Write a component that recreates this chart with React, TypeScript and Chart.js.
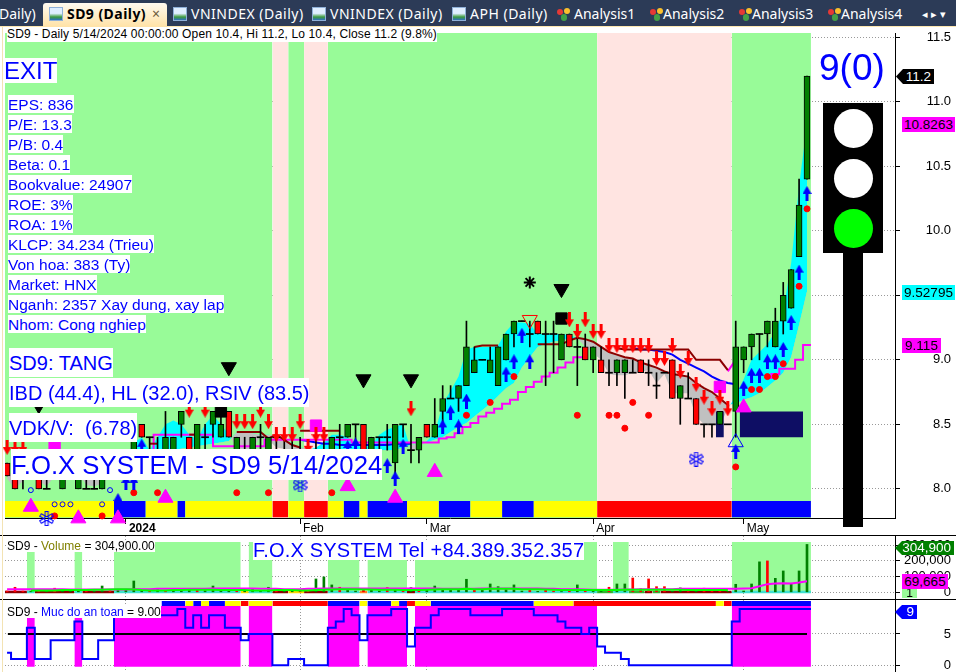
import React, { useEffect, useRef } from "react";
import Chart from "chart.js/auto";

// ---------- price data (one entry per trading bar) ----------
const opens = [8.2,8.1,8.1,8.1,8.1,8.0,8.1,8.0,8.1,8.0,8.0,8.0,8.0,8.1,8.1,8.2,8.2,8.5,8.4,8.3,8.3,8.3,8.5,8.4,8.3,8.4,8.5,8.4,8.6,8.3,8.3,8.3,8.4,8.3,8.4,8.3,8.3,8.3,8.3,8.3,8.3,8.3,8.4,8.4,8.5,8.5,8.3,8.4,8.4,8.2,8.5,8.3,8.3,8.5,8.4,8.6,8.7,8.7,8.8,8.9,9.0,8.9,8.8,9.0,9.2,9.3,9.2,9.3,9.2,9.2,9.0,9.2,9.1,9.1,9.0,9.0,8.9,8.9,8.9,8.9,9.0,8.9,8.8,8.9,9.0,8.7,8.7,8.7,8.5,8.5,8.5,8.5,8.6,9.0,9.1,9.2,9.2,9.1,9.3,9.4,9.8,10.4];
const closes = [8.1,8.0,8.1,8.1,8.0,8.0,8.1,8.1,8.1,8.1,8.0,8.0,8.1,8.1,8.2,8.3,8.4,8.4,8.4,8.3,8.4,8.4,8.6,8.3,8.5,8.4,8.6,8.5,8.4,8.4,8.3,8.4,8.4,8.4,8.4,8.3,8.3,8.3,8.3,8.3,8.3,8.4,8.4,8.5,8.5,8.3,8.4,8.4,8.4,8.5,8.5,8.3,8.4,8.4,8.5,8.7,8.7,8.8,9.1,9.0,9.0,9.0,9.1,9.2,9.3,9.3,9.2,9.2,9.2,9.2,9.2,9.1,9.1,9.0,9.1,8.9,8.9,9.0,9.0,8.9,8.9,8.9,8.8,8.9,8.7,8.8,8.7,8.5,8.5,8.5,8.6,8.5,9.1,9.1,9.2,9.2,9.3,9.3,9.5,9.7,10.2,11.2];
const highs = [8.2,8.1,8.1,8.2,8.1,8.1,8.2,8.1,8.2,8.1,8.1,8.1,8.1,8.2,8.2,8.3,8.4,8.5,8.4,8.4,8.6,8.4,8.6,8.4,8.5,8.5,8.6,8.6,8.6,8.4,8.4,8.4,8.5,8.4,8.4,8.4,8.4,8.4,8.3,8.4,8.4,8.4,8.5,8.5,8.5,8.5,8.4,8.4,8.5,8.5,8.5,8.5,8.4,8.5,8.7,8.8,8.8,8.8,9.3,9.1,9.0,9.1,9.1,9.2,9.3,9.3,9.3,9.3,9.3,9.3,9.2,9.2,9.2,9.2,9.1,9.1,9.0,9.0,9.0,9.0,9.0,9.0,8.9,8.9,9.0,8.8,8.9,8.7,8.5,8.5,8.6,8.5,9.3,9.1,9.2,9.2,9.3,9.4,9.6,9.7,10.4,11.2];
const lows = [8.1,8.0,8.0,8.1,8.0,8.0,8.1,8.0,8.1,8.0,8.0,8.0,8.0,8.1,8.1,8.2,8.2,8.4,8.3,8.3,8.3,8.3,8.4,8.3,8.3,8.3,8.4,8.4,8.4,8.3,8.3,8.3,8.3,8.3,8.3,8.3,8.3,8.3,8.3,8.3,8.3,8.3,8.3,8.4,8.3,8.3,8.3,8.3,8.3,8.1,8.4,8.2,8.2,8.4,8.4,8.5,8.7,8.6,8.8,8.9,9.0,8.9,8.8,9.0,9.1,9.3,9.1,9.2,8.8,8.9,9.0,9.1,8.8,9.0,8.9,8.9,8.8,8.8,8.7,8.9,8.9,8.8,8.7,8.9,8.7,8.5,8.7,8.5,8.4,8.4,8.5,8.5,8.4,8.9,9.0,9.0,9.1,9.1,9.2,9.4,9.8,10.4];

// two moving averages of the cloud (cyan when fast above slow, grey when below)
const cloudFast = [8.08,8.0,8.06,8.1,8.06,8.02,8.1,8.13,8.14,8.12,8.03,8.02,8.04,8.1,8.2,8.25,8.36,8.4,8.3,8.4,8.5,8.53,8.5,8.42,8.38,8.5,8.57,8.5,8.42,8.32,8.3,8.32,8.4,8.38,8.32,8.31,8.3,8.29,8.3,8.32,8.36,8.42,8.42,8.4,8.34,8.32,8.34,8.42,8.46,8.48,8.5,8.3,8.32,8.37,8.43,8.66,8.76,8.87,9.08,9.1,9.1,9.1,9.11,9.22,9.29,9.29,9.28,9.2,9.2,9.2,9.2,9.19,9.17,9.1,9.05,9.0,8.89,8.88,8.88,8.9,8.91,8.92,8.82,8.89,8.74,8.74,8.74,8.56,8.5,8.49,8.49,8.62,8.72,8.85,9.0,9.06,9.12,9.22,9.38,9.75,10.35,10.83];
const cloudSlow = [8.12,8.12,8.11,8.11,8.11,8.11,8.11,8.11,8.11,8.11,8.11,8.12,8.12,8.13,8.15,8.17,8.2,8.22,8.24,8.26,8.28,8.3,8.31,8.32,8.33,8.34,8.35,8.36,8.37,8.44,8.44,8.43,8.42,8.42,8.41,8.38,8.35,8.32,8.31,8.3,8.3,8.3,8.3,8.3,8.3,8.3,8.3,8.3,8.3,8.3,8.32,8.34,8.35,8.36,8.38,8.4,8.44,8.48,8.51,8.56,8.61,8.66,8.72,8.78,8.82,8.94,9.02,9.1,9.12,9.14,9.15,9.165,9.17,9.16,9.14,9.1,9.06,9.04,9.02,9.01,8.98,8.96,8.94,8.91,8.89,8.88,8.87,8.82,8.78,8.75,8.7,8.65,8.66,8.69,8.71,8.74,8.79,8.84,8.9,9.02,9.27,9.53];

// [bar, value] line pieces
const stopRising = [[18,8.28],[19,8.42],[20,8.42],[32,8.33],[33,8.38],[34,8.38],[53,8.36],[54,8.36],[55,8.39],[56,8.40],[57,8.43],[58,8.48],[59,8.51],[60,8.56],[61,8.59],[62,8.62],[63,8.66],[64,8.69],[65,8.75],[66,8.79],[67,8.83],[68,8.87],[69,8.90],[70,8.94],[71,8.98],[72,9.02],[73,9.02]];
const stopRisingEnd = [[91,8.91],[92,9.0]];
const stopRisingLast = [[96,8.86],[97,8.89],[98,8.93],[99,8.93],[100,9.0],[101,9.115],[101.5,9.115]];
const stopFalling = [[18,8.35],[19,8.35]];
const stopFalling2 = [[23,8.42],[24,8.42]];
const stopFalling3 = [[29,8.44],[30,8.44],[31,8.44],[32,8.44],[33,8.39],[34,8.42],[35,8.38],[36,8.34],[37,8.32]];
const stopFalling4 = [[37,8.45],[38,8.45],[39,8.45],[40,8.45],[41,8.45],[42,8.45]];
const stopFalling5 = [[59,9.1],[60,9.11],[61,9.11],[62,9.11]];
const maFalling = [[67,9.12],[68,9.12],[69,9.12],[70,9.12],[71,9.15],[72,9.17],[73,9.16],[74,9.14],[75,9.10],[76,9.06],[77,9.04],[78,9.02],[79,9.01],[80,8.98],[81,8.96],[82,8.94],[83,8.91],[84,8.89],[85,8.88],[86,8.87],[87,8.82],[88,8.78],[89,8.75],[90,8.70],[91,8.65]];
const stopUpper = [[77,9.09],[78,9.08],[79,9.08],[80,9.08],[81,9.08],[82,9.08],[83,9.08],[84,9.08],[85,9.08],[86,9.08],[87,9.0],[88,9.0],[89,9.0],[90,9.0],[91,8.92]];
const blueTrail = [[37,8.38],[38,8.37],[39,8.36],[40,8.35],[41,8.35],[42,8.34],[43,8.34],[44,8.34],[45,8.34],[46,8.34],[47,8.34],[48,8.34],[49,8.35],[50,8.35],[51,8.35]];
const blueTrail2 = [[79,9.09],[80,9.08],[81,9.08],[82,9.07],[83,9.06],[84,9.04],[85,9.0],[86,8.97],[87,8.94],[88,8.91],[89,8.87],[90,8.84],[91,8.82],[92,8.81]];

// signal markers: [bar, value]
const upArrows = [[14,7.91],[15,8.05],[16,8.05],[17,8.33],[43,8.32],[44,8.34],[48,8.18],[49,8.08],[50,8.33],[55,8.48],[56,8.59],[57,8.48],[58,8.68],[63,8.89],[64,8.985],[65,9.19],[66,8.985],[92,8.29],[93,8.78],[94,8.88],[95,8.88],[96,8.985],[97,8.985],[98,9.08],[99,9.29],[100,9.68],[101,10.29]];
const downArrows = [[0,8.32],[1,8.32],[2,8.32],[23,8.61],[25,8.61],[29,8.52],[30,8.52],[31,8.52],[32,8.61],[33,8.52],[34,8.42],[35,8.42],[36,8.42],[37,8.52],[38,8.33],[39,8.42],[40,8.42],[51,8.62],[71,9.31],[72,9.22],[73,9.31],[74,9.22],[75,9.22],[76,9.11],[77,9.11],[78,9.11],[79,9.11],[80,9.11],[81,9.11],[82,9.01],[83,9.01],[84,9.11],[85,8.91],[86,9.01],[87,8.81],[88,8.71],[89,8.62],[90,8.71],[91,8.62]];
const blackDown = [[4,8.65],[28,8.944],[45,8.85],[51,8.85],[70,9.55]];
const hollowDown = [[66,9.31]];
const hollowUp = [[92,8.36]];
const starMarks = [[66,9.6]];
const blackSquares = [[27,8.6],[70,9.32]];
const magentaSquares = [[6,8.33],[39,8.49],[90,8.79]];
const magentaUp = [[3,7.86],[9,7.77],[14,7.77],[20,7.93],[43,8.02],[49,7.93],[54,8.13],[93,8.63]];
const redDots = [[6,7.79],[12,7.79],[16,7.97],[19,7.97],[29,7.97],[33,7.97],[41,7.97],[58,8.57],[61,8.67],[64,8.87],[72,8.57],[76,8.57],[77,8.57],[78,8.47],[79,8.67],[81,8.57],[92,8.17],[94,8.77],[95,8.77],[96,8.87],[97,8.87],[98,8.97],[100,9.57],[101,10.17]];
const smallRings = [[3,7.99],[13,7.99],[6,7.88],[7,7.88],[8,7.88],[12,7.88]];
const snowflakes = [[5,7.77],[37,8.03],[87,8.23]];
const navyBlocks = [[90,91],[93,101]];

// background zones as [firstBar, lastBarExclusive]
const greenZones = [[0,34],[36,38],[41,75],[92,102]];
const pinkZones = [[34,36],[38,41],[75,92]];
const stripYellow = [[0,14],[18,22],[23,34],[36,38],[41,43],[45,46],[51,55],[59,63],[67,75]];
const stripBlue = [[14,18],[22,23],[43,45],[46,51],[55,59],[63,67],[92,102]];
const stripRed = [[34,36],[38,41],[75,92]];
const priceTicks = [8,8.5,9,9.5,10,10.5,11,11.5];
const monthBars = [15,37,53,74,93];
const monthLabels = ["2024","Feb","Mar","Apr","May"];

// ---------- volume ----------
const volumeK = [8,32,8,6,10,6,26,8,6,8,6,8,40,10,12,15,72,12,8,22,10,24,10,18,14,10,40,14,20,14,10,24,8,32,12,8,6,14,6,85,98,47,32,12,8,24,20,8,30,14,8,30,10,14,40,18,18,18,83,16,14,53,36,22,47,8,22,6,24,8,5,14,47,8,6,6,32,53,53,91,22,85,36,36,6,28,5,14,26,18,14,5,51,8,53,194,200,89,136,51,136,304.9];
const volumeDir = "rrrgrgrgggrggrggggrgrgggrggggrggggrggrrgggrggrggrgrgrggggggrggggggrgrrgrgrggrggrrrrrggrgrrrgggggrgggggg".split("");
const volumeFast = [null,null,null,12,12,12,12,14,14,14,14,16,16,18,20,20,18,14,12,12,12,14,14,16,16,16,16,14,14,14,14,12,12,12,14,14,14,12,12,14,16,18,20,20,20,18,18,16,16,16,14,14,14,16,18,20,20,20,22,20,20,22,22,22,22,20,20,20,18,16,14,14,14,14,14,14,14,14,16,16,16,16,16,16,16,16,14,14,14,14,14,14];
const volumeSlow = [20,20,20,20,20,20,20,20,18,18,18,18,18,18,18,18,20,20,20,22,22,22,22,22,22,22,24,24,24,24,24,24,22,22,22,20,20,20,22,22,24,24,24,24,24,24,24,24,24,24,24,24,24,24,24,22,22,22,22,22,24,24,24,24,24,24,24,24,22,22,20,20,20,18,16,16,16,16,18,18,20,20,20,20,20,22,22,22,22,22,22,22,22,24,26,38,52,56,58,56,62,69.665];
const volumeZones = [[3,4],[9,10],[14,30],[31,34],[41,45],[46,51],[52,75],[77,79],[92,102]];
const footTeal = [[3,4],[9,10],[14,30],[31,34],[41,45],[46,51],[52,75],[77,79],[92,102]];
const footDark = [[0,3],[4,9],[10,14],[34,36],[38,41],[51,52],[81,82],[83,92]];
const footGreen = [[75,77],[79,81],[82,83]];
const footYellow = [[30,31],[36,38]];
const footOrange = [[45,46]];
const volumeTicks = [0,100000,200000,300000];

// ---------- safety level ----------
const safety = [2,1,1,6,1,1,4,4,4,7,1,1,4,4,8,8,8,8,8,8,8,8,9,6,8,6,8,8,6,6,4,5,5,5,0,0,1,1,0,0,0,6,7,9,8,4,8,8,8,9,9,3,6,6,8,9,9,9,9,8,8,8,8,9,9,9,9,8,8,8,7,6,6,5,6,3,2,2,1,0,0,0,0,0,0,0,0,0,0,0,0,0,7,9,9,9,9,9,9,9,9,9];
const safetyZones = [[3,4],[9,10],[14,30],[31,34],[41,45],[46,51],[52,75],[92,102]];
const topBlue = [[20,23],[24,25],[26,28],[41,45],[46,49],[50,51],[54,67],[92,102]];
const topYellow = [[23,24],[25,26],[28,30],[31,34],[45,46],[49,50],[52,54],[67,72],[90,91]];
const topRed = [[30,31],[34,41],[51,52],[72,90],[91,92]];
const safetyTicks = [0,5];

// ---------- texts ----------
const fundamentals = ["EPS: 836","P/E: 13.3","P/B: 0.4","Beta: 0.1","Bookvalue: 24907","ROE: 3%","ROA: 1%","KLCP: 34.234 (Trieu)","Von hoa: 383 (Ty)","Market: HNX","Nganh: 2357 Xay dung, xay lap","Nhom: Cong nghiep"];
const otherTabs: [string, number, number][] = [["VNINDEX (Daily)",173,191],["VNINDEX (Daily)",312,330],["APH (Daily)",452,470]];
const analysisTabs: [string, number, number][] = [["Analysis1",557,574],["Analysis2",650,663],["Analysis3",739,752],["Analysis4",828,841]];

// ---------- helpers ----------
const XMIN = (5 - 7.08) / 7.92;
const XMAX = (895 - 7.08) / 7.92;
const FONT = '"Liberation Sans", Arial, sans-serif';

const pts = (list: number[][]) => list.map(([x, y]) => ({ x, y }));
const zoneData = (zones: number[][], top: number) =>
  zones.flatMap(([a, b]) => [{ x: a - 0.5, y: top }, { x: b - 0.5, y: top }, { x: b - 0.5, y: null }]);
const zone = (zones: number[][], lo: number, hi: number, color: string, order: number) => ({
  type: "line", data: zoneData(zones, hi), fill: { value: lo }, backgroundColor: color,
  borderColor: "transparent", borderWidth: 0, pointRadius: 0, spanGaps: false, order, clip: true,
});
const line = (list: number[][], color: string, width: number, order: number, stepped: any = false) => ({
  type: "line", data: pts(list), borderColor: color, borderWidth: width, pointRadius: 0, fill: false, stepped, order, tension: 0,
});
const marker = (list: number[][], style: any, radius: number, bg: string, border: string, order: number, rotation = 0, bw = 1) => ({
  type: "line", data: pts(list), showLine: false, pointStyle: style, pointRadius: radius, pointBackgroundColor: bg,
  pointBorderColor: border, pointBorderWidth: bw, pointRotation: rotation, order, clip: false,
});

function arrowSprite(color: string, up: boolean) {
  const c = document.createElement("canvas");
  c.width = 9; c.height = 15;
  const g = c.getContext("2d")!;
  g.fillStyle = color;
  g.translate(0, up ? 0 : 15);
  g.scale(1, up ? 1 : -1);
  g.beginPath();
  g.moveTo(4.5, 0); g.lineTo(9, 8); g.lineTo(6, 8); g.lineTo(6, 15); g.lineTo(3, 15); g.lineTo(3, 8); g.lineTo(0, 8);
  g.closePath(); g.fill();
  return c;
}
function flakeSprite() {
  const c = document.createElement("canvas");
  c.width = 15; c.height = 15;
  const g = c.getContext("2d")!;
  g.strokeStyle = "#0000ff"; g.lineWidth = 1;
  g.translate(7.5, 7.5);
  for (let k = 0; k < 6; k++) {
    g.rotate(Math.PI / 3);
    g.strokeRect(-1.5, -7, 3, 5);
  }
  return c;
}
const noPad = (s: any) => { s.paddingTop = 0; s.paddingBottom = 0; s.paddingLeft = 0; s.paddingRight = 0; };

const base = (padding: any, yMin: number, yMax: number, ticks: number[], fmt: (v: number) => string, xHeight: number, xLabels: boolean) => ({
  responsive: false,
  animation: false,
  events: [],
  layout: { padding, autoPadding: false },
  plugins: { legend: { display: false }, tooltip: { enabled: false } },
  scales: {
    x: {
      type: "linear", min: XMIN, max: XMAX, offset: false,
      afterBuildTicks: (s: any) => { s.ticks = monthBars.map((value) => ({ value })); },
      afterFit: (s: any) => { s.height = xHeight; noPad(s); },
      grid: { color: "#999", drawTicks: xLabels, tickLength: 6, tickColor: "#000", tickBorderDash: [], offset: false },
      border: { display: xLabels, color: "#000", dash: [1, 2] },
      ticks: {
        display: xLabels, autoSkip: false, maxRotation: 0, align: "start", padding: -3, labelOffset: 3, color: "#000",
        font: (ctx: any) => ({ family: FONT, size: 12, weight: ctx.tick && ctx.tick.value === monthBars[0] ? "bold" : "normal" }),
        callback: (v: number) => monthLabels[monthBars.indexOf(v)] ?? "",
      },
    },
    y: {
      position: "right", min: yMin, max: yMax,
      afterBuildTicks: (s: any) => { s.ticks = ticks.map((value) => ({ value })); },
      afterFit: (s: any) => { s.width = 56; noPad(s); },
      grid: { color: "#999", tickLength: 5, tickColor: "#000", tickBorderDash: [] },
      border: { color: "#000", dash: [1, 2] },
      ticks: { color: "#000", crossAlign: "far", padding: 2, autoSkip: false, font: { family: FONT, size: 13 }, callback: (v: number) => fmt(v) },
    },
  },
});

function pricePane(canvas: HTMLCanvasElement) {
  const n = closes.length;
  const idx = Array.from({ length: n }, (_, i) => i);
  const up = idx.filter((i) => closes[i] > opens[i]);
  const down = idx.filter((i) => closes[i] < opens[i]);
  const flat = idx.filter((i) => closes[i] === opens[i]);
  const body = (list: number[], color: string) => ({
    type: "bar", grouped: false, barThickness: 6, borderWidth: 1, borderColor: "#000", borderSkipped: false, backgroundColor: color, order: 7,
    data: list.map((i) => ({ x: i, y: [Math.min(opens[i], closes[i]), Math.max(opens[i], closes[i])] })),
  });
  const upS = arrowSprite("#0000ff", true);
  const downS = arrowSprite("#ff0000", false);
  const flake = flakeSprite();
  return new Chart(canvas, {
    type: "bar",
    data: {
      datasets: [
        zone(greenZones, 7.7, 11.533, "#98fb98", 60),
        zone(pinkZones, 7.7, 11.533, "#ffe4e1", 60),
        zone(stripYellow, 7.78, 7.905, "#ffff00", 59),
        zone(stripBlue, 7.78, 7.905, "#0000ff", 59),
        zone(stripRed, 7.78, 7.905, "#ff0000", 59),
        {
          type: "line", data: cloudFast.map((y, x) => ({ x, y })), fill: { target: "+1", above: "#00ffff", below: "#c0c0c0" },
          borderColor: "transparent", borderWidth: 0, pointRadius: 0, order: 50, tension: 0,
        },
        { type: "line", data: cloudSlow.map((y, x) => ({ x, y })), fill: false, borderColor: "transparent", borderWidth: 0, pointRadius: 0, order: 51 },
        zone(navyBlocks, 8.4, 8.6, "#0e0e64", 49),
        line(stopRising, "#ff00ff", 2, 40, "middle"),
        line(stopRisingEnd, "#ff00ff", 2, 40),
        line(stopRisingLast, "#ff00ff", 2, 40, "middle"),
        line(stopFalling, "#8b0000", 2, 39),
        line(stopFalling2, "#8b0000", 2, 39),
        line(stopFalling3, "#8b0000", 2, 39),
        line(stopFalling4, "#8b0000", 2, 39),
        line(stopFalling5, "#8b0000", 2, 39),
        line(maFalling, "#8b0000", 2, 39),
        line(stopUpper, "#8b0000", 2, 39),
        line(blueTrail, "#0000ff", 2, 41),
        line(blueTrail2, "#0000ff", 2, 41),
        {
          type: "bar", grouped: false, barThickness: 1, backgroundColor: "#000", order: 9,
          data: idx.map((i) => ({ x: i, y: [lows[i], highs[i]] })),
        },
        {
          type: "bar", grouped: false, barThickness: 7, backgroundColor: "#000", order: 8,
          data: flat.map((i) => ({ x: i, y: [closes[i] - 0.004, closes[i] + 0.004] })),
        },
        body(up, "#008000"),
        body(down, "#ff0000"),
        marker(blackSquares, "rect", 8, "#000", "#000", 6),
        marker(magentaSquares, "rect", 8, "#ff00ff", "#ff00ff", 6),
        marker(redDots, "circle", 3, "#ff0000", "#ff0000", 5),
        marker(smallRings, "circle", 2.5, "transparent", "#0000ff", 5),
        marker(magentaUp, "triangle", 8.7, "#ff00ff", "#ff00ff", 4),
        marker(blackDown, "triangle", 8.7, "#000", "#000", 3, 180),
        marker(hollowDown, "triangle", 8.7, "transparent", "#ff0000", 3, 180),
        marker(hollowUp, "triangle", 8.7, "transparent", "#0000ff", 3),
        marker(starMarks, "star", 6, "#000", "#000", 3, 0, 2),
        marker(snowflakes, flake, 7, "#0000ff", "#0000ff", 3),
        marker(upArrows, upS, 6, "#0000ff", "#0000ff", 2),
        marker(downArrows, downS, 6, "#ff0000", "#ff0000", 2),
      ],
    },
    options: base({ left: 5, top: 6, right: 5, bottom: 0 }, 7.774, 11.533, priceTicks, (v) => v.toFixed(1), 17, true),
  } as any);
}

function volumePane(canvas: HTMLCanvasElement) {
  const K = 1000;
  return new Chart(canvas, {
    type: "bar",
    data: {
      datasets: [
        zone(volumeZones, -4500, 320000, "#98fb98", 60),
        zone(footTeal, -6000, 10000, "#40e0d0", 50),
        zone(footDark, -6000, 10000, "#8b0000", 50),
        zone(footGreen, -6000, 10000, "#32b432", 50),
        zone(footYellow, -6000, 10000, "#ffd700", 50),
        zone(footOrange, -6000, 10000, "#ff7f27", 50),
        {
          type: "bar", grouped: false, barThickness: 2, order: 10,
          backgroundColor: volumeDir.map((d) => (d === "g" ? "#008000" : "#ff0000")),
          data: volumeK.map((v, x) => ({ x, y: [0, v * K] })),
        },
        line(volumeFast.map((v, x) => [x, v === null ? null : (v as number) * K]) as number[][], "#00ff00", 2, 6),
        line(volumeSlow.map((v, x) => [x, v * K]), "#ff00ff", 2, 8),
      ],
    },
    options: base({ left: 5, top: 1, right: 5, bottom: 1 }, -36300, 358600, volumeTicks, (v) => v.toLocaleString("en-US"), 0, false),
  } as any);
}

function safetyPane(canvas: HTMLCanvasElement) {
  return new Chart(canvas, {
    type: "bar",
    data: {
      datasets: [
        zone(safetyZones, -0.22, 9.47, "#ff00ff", 60),
        zone(topBlue, 9.47, 10.27, "#0000ff", 50),
        zone(topYellow, 9.47, 10.27, "#ffff00", 50),
        zone(topRed, 9.47, 10.27, "#ff0000", 50),
        line([[0.1, 5], [101, 5]], "#000", 2, 20),
        line([...safety.map((v, x) => [x, v]), [101.5, 9]], "#0000ff", 2, 10, "middle"),
      ],
    },
    options: base({ left: 5, top: 1, right: 5, bottom: 0 }, -1.07, 10.43, safetyTicks, (v) => String(v), 0, false),
  } as any);
}

const abs = (left: number, top: number, extra: React.CSSProperties = {}): React.CSSProperties => ({ position: "absolute", left, top, whiteSpace: "pre", ...extra });

function Label({ x, y, h, size, text, spacing = 0 }: { x: number; y: number; h: number; size: number; text: string; spacing?: number }) {
  return <div style={abs(x, y, { height: h, lineHeight: `${h + 1}px`, fontSize: size, letterSpacing: spacing, fontFamily: FONT, color: "#0000ff", background: "#fff" })}>{text}</div>;
}
function Tag({ x, y, w, h, bg, color, text, arrow }: { x: number; y: number; w: number; h: number; bg: string; color: string; text: string; arrow?: boolean }) {
  return (
    <div style={abs(x, y, {
      width: w, height: h, lineHeight: `${h}px`, background: bg, color, fontFamily: FONT, fontSize: 13.5, textAlign: arrow ? "right" : "center",
      paddingRight: arrow ? 3 : 0, boxSizing: "border-box",
      clipPath: arrow ? `polygon(0 50%, 7px 0, 100% 0, 100% 100%, 7px 100%)` : undefined,
    })}>{text}</div>
  );
}
function ChartIcon({ x }: { x: number }) {
  return <div style={abs(x, 7, { width: 14, height: 14, boxSizing: "border-box", border: "1px solid #8fb0d8", background: "linear-gradient(180deg,#dfeeff 0 45%,#3c9a3c 75%,#2f6fc0 100%)" })} />;
}
function HeartIcon({ x }: { x: number }) {
  return (
    <div style={abs(x, 8, { width: 14, height: 14 })}>
      <div style={abs(0, 1, { width: 6, height: 6, borderRadius: 3, background: "#e53935" })} />
      <div style={abs(7, 0, { width: 6, height: 6, borderRadius: 3, background: "#fbc02d" })} />
      <div style={abs(4, 6, { width: 6, height: 7, borderRadius: 3, background: "#43a047" })} />
    </div>
  );
}

export default function App() {
  const a = useRef<HTMLCanvasElement>(null);
  const b = useRef<HTMLCanvasElement>(null);
  const c = useRef<HTMLCanvasElement>(null);
  useEffect(() => {
    document.body.style.margin = "0";
    const charts = [pricePane(a.current!), volumePane(b.current!), safetyPane(c.current!)];
    return () => charts.forEach((ch) => ch.destroy());
  }, []);
  const tabFont = '"Noto Sans", "Open Sans", sans-serif';
  const tabText: React.CSSProperties = { color: "#fff", fontFamily: tabFont, fontSize: 14, lineHeight: "28px", height: 27 };
  return (
    <div style={{ position: "fixed", left: 0, top: 0, width: 956, height: 672, background: "#fff", overflow: "hidden" }}>
      <canvas ref={a} width={956} height={508} style={abs(0, 27, { display: "block" })} />
      <canvas ref={b} width={956} height={64} style={abs(0, 535, { display: "block" })} />
      <canvas ref={c} width={956} height={73} style={abs(0, 599, { display: "block" })} />

      {/* pane frames */}
      <div style={abs(0, 535, { width: 956, height: 1, background: "#000" })} />
      <div style={abs(0, 599, { width: 956, height: 1, background: "#000" })} />
      <div style={abs(2, 27, { width: 1, height: 645, background: "#f3e3b3" })} />

      {/* tab bar */}
      <div style={abs(0, 0, { width: 956, height: 26, background: "#2c3b57" })} />
      <div style={abs(0, 26, { width: 956, height: 1, background: "#fde7b0" })} />
      <div style={abs(-1, 0, tabText)}>Daily)</div>
      <div style={abs(43, 3, { width: 124, height: 24, borderRadius: "3px 3px 0 0", background: "linear-gradient(180deg,#fffaf0,#ffe2a6)" })} />
      <ChartIcon x={49} />
      <div style={abs(67, 0, { ...tabText, color: "#000", fontWeight: 700, letterSpacing: 0.45 })}>SD9 (Daily)</div>
      <div style={abs(152, 0, { ...tabText, color: "#6b5b3a" })}>×</div>
      {otherTabs.map(([t, ix, tx], i) => (
        <React.Fragment key={i}>
          <ChartIcon x={ix} />
          <div style={abs(tx, 0, { ...tabText, letterSpacing: 0.5 })}>{t}</div>
        </React.Fragment>
      ))}
      {analysisTabs.map(([t, ix, tx], i) => (
        <React.Fragment key={i}>
          <HeartIcon x={ix} />
          <div style={abs(tx, 0, tabText)}>{t}</div>
        </React.Fragment>
      ))}
      <div style={abs(922, 0, { ...tabText, fontSize: 11 })}>◂ ▸ ▾</div>

      {/* price pane texts */}
      <div style={abs(7, 27, { height: 15, lineHeight: "15px", fontSize: 12, letterSpacing: 0.14, fontFamily: FONT, color: "#000", background: "#fff" })}>SD9 - Daily 5/14/2024 00:00:00 Open 10.4, Hi 11.2, Lo 10.4, Close 11.2 (9.8%)</div>
      <Label x={4} y={58} h={25} size={24} text="EXIT" />
      {fundamentals.map((t, i) => (
        <Label key={t} x={8} y={95 + i * 20} h={18} size={15.5} text={t} />
      ))}
      <Label x={9} y={348} h={29} size={20} text="SD9: TANG" />
      <Label x={9} y={378} h={29} size={20} text="IBD (44.4), HL (32.0), RSIV (83.5)" />
      <Label x={9} y={413} h={29} size={20} text="VDK/V:  (6.78)" />
      <Label x={11} y={449} h={31} size={25.7} text="F.O.X SYSTEM - SD9 5/14/2024" />

      <div style={abs(819, 41, { fontSize: 37, fontFamily: FONT, color: "#0000ff", lineHeight: "54px" })}>9(0)</div>
      <div style={abs(843, 252, { width: 20, height: 275, background: "#000" })} />
      <div style={abs(823, 103, { width: 60, height: 150, background: "#000" })} />
      <div style={abs(834, 109, { width: 39, height: 39, borderRadius: "50%", background: "#fff" })} />
      <div style={abs(834, 159, { width: 39, height: 39, borderRadius: "50%", background: "#fff" })} />
      <div style={abs(834, 209, { width: 39, height: 39, borderRadius: "50%", background: "#00ff00" })} />

      <Tag x={896} y={69} w={38} h={15} bg="#000" color="#fff" text="11.2" arrow />
      <Tag x={902} y={117} w={53} h={15} bg="#ff00ff" color="#000" text="10.8263" />
      <Tag x={902} y={285} w={53} h={15} bg="#00ffff" color="#000" text="9.52795" />
      <Tag x={902} y={338} w={39} h={15} bg="#ff00ff" color="#000" text="9.115" />

      {/* volume pane texts */}
      <div style={abs(7, 540, { height: 12, lineHeight: "12px", fontSize: 12, fontFamily: FONT, color: "#000", background: "#fff" })}>
        SD9 - <span style={{ color: "#808000" }}>Volume</span> = 304,900.00
      </div>
      <Label x={253} y={540} h={20} size={20} spacing={0.2} text="F.O.X SYSTEM Tel +84.389.352.357" />
      <Tag x={895} y={541} w={59} h={14} bg="#008000" color="#fff" text="304,900" arrow />
      <div style={abs(902, 589, { width: 15, height: 9, lineHeight: "9px", background: "#98fb98", fontSize: 12, fontFamily: FONT, textAlign: "center", color: "#000" })}>1</div>
      <Tag x={902} y={574} w={46} h={15} bg="#ff00ff" color="#000" text="69,665" />

      {/* safety pane texts */}
      <div style={abs(7, 606, { height: 12, lineHeight: "12px", fontSize: 12, fontFamily: FONT, color: "#000", background: "#fff" })}>
        SD9 - <span style={{ color: "#0000ff" }}>Muc do an toan</span> = 9.00
      </div>
      <Tag x={895} y={605} w={22} h={14} bg="#0000ff" color="#fff" text="9" arrow />
    </div>
  );
}
